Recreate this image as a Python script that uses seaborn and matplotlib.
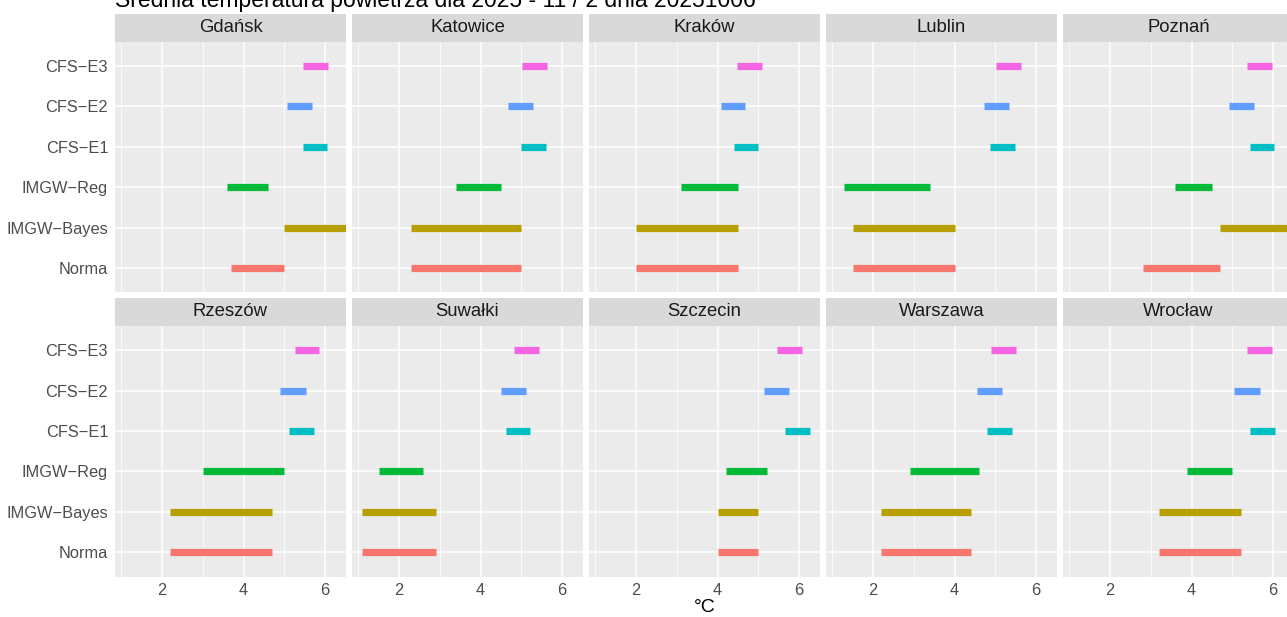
import matplotlib
matplotlib.use("Agg")
import matplotlib.pyplot as plt
from matplotlib.patches import Rectangle
import pandas as pd
import seaborn as sns

# stations in facet order
stations = ["Gdańsk", "Katowice", "Kraków", "Lublin", "Poznań",
            "Rzeszów", "Suwałki", "Szczecin", "Warszawa", "Wrocław"]
# forecast sources, bottom to top
sources = ["Norma", "IMGW−Bayes", "IMGW−Reg", "CFS−E1", "CFS−E2", "CFS−E3"]
source_colors = ["#F8766D", "#B79F00", "#00BA38", "#00BFC4", "#619CFF", "#F564E3"]

# interval start / end per station, in order of `sources`
norma_lo = [3.7, 2.3, 2.0, 1.5, 2.8, 2.2, 1.1, 4.0, 2.2, 3.2]
norma_hi = [5.0, 5.0, 4.5, 4.0, 4.7, 4.7, 2.9, 5.0, 4.4, 5.2]
bayes_lo = [5.0, 2.3, 2.0, 1.5, 4.7, 2.2, 1.1, 4.0, 2.2, 3.2]
bayes_hi = [7.2, 5.0, 4.5, 4.0, 7.2, 4.7, 2.9, 5.0, 4.4, 5.2]
reg_lo = [3.6, 3.4, 3.1, 1.3, 3.6, 3.0, 1.5, 4.2, 2.9, 3.9]
reg_hi = [4.6, 4.5, 4.5, 3.4, 4.5, 5.0, 2.6, 5.2, 4.6, 5.0]
e1_lo = [5.45, 5.0, 4.4, 4.88, 5.42, 5.12, 4.62, 5.65, 4.8, 5.44]
e1_hi = [6.05, 5.6, 5.0, 5.48, 6.03, 5.72, 5.22, 6.26, 5.41, 6.04]
e2_lo = [5.07, 4.68, 4.09, 4.73, 4.92, 4.9, 4.51, 5.13, 4.55, 5.05]
e2_hi = [5.68, 5.29, 4.68, 5.33, 5.52, 5.52, 5.12, 5.74, 5.16, 5.67]
e3_lo = [5.46, 5.02, 4.47, 5.02, 5.35, 5.25, 4.82, 5.46, 4.9, 5.37]
e3_hi = [6.07, 5.63, 5.08, 5.63, 5.97, 5.85, 5.42, 6.08, 5.51, 5.97]

title_text = "Średnia temperatura powietrza dla 2025 - 11 / 2 dnia 20251006"

lows = [norma_lo, bayes_lo, reg_lo, e1_lo, e2_lo, e3_lo]
highs = [norma_hi, bayes_hi, reg_hi, e1_hi, e2_hi, e3_hi]
rows = []
for k, src in enumerate(sources):
    for i, st in enumerate(stations):
        rows.append({"station": st, "source": src, "pos": k,
                     "lo": lows[k][i], "hi": highs[k][i]})
df = pd.DataFrame(rows)

sns.set_theme(style="darkgrid", rc={
    "axes.facecolor": "#EBEBEB",
    "grid.color": "white",
    "axes.edgecolor": "none",
})
plt.rcParams["font.family"] = ["Liberation Sans", "DejaVu Sans"]

palette = dict(zip(sources, source_colors))


def draw_intervals(data, **kwargs):
    ax = plt.gca()
    for _, r in data.iterrows():
        ax.hlines(r["pos"], r["lo"], r["hi"], color=palette[r["source"]],
                  linewidth=5.2, capstyle="butt")


g = sns.FacetGrid(df, col="station", col_wrap=5, col_order=stations,
                  sharex=True, sharey=True)
g.map_dataframe(draw_intervals)
g.figure.set_size_inches(12.87, 6.17)
g.figure.set_dpi(100)

W, H = 1287.0, 617.0
col_left = [115, 352, 589, 826, 1063]
pan_w = 231
row_top = [41.7, 326]
pan_h = 250.5
strip_h = 28

for idx, ax in enumerate(g.axes.flat):
    r, c = divmod(idx, 5)
    ax.set_position([col_left[c] / W, 1 - (row_top[r] + pan_h) / H,
                     pan_w / W, pan_h / H])
    ax.set_xlim(0.85, 6.51)
    ax.set_ylim(-0.6, 5.6)
    ax.set_xticks([2, 4, 6])
    ax.set_xticks([1, 3, 5], minor=True)
    ax.set_yticks(range(len(sources)))
    ax.grid(which="major", color="white", linewidth=1.1)
    ax.grid(which="minor", axis="x", color="white", linewidth=0.55)
    ax.set_title("")
    ax.set_xlabel("")
    ax.set_ylabel("")
    ax.tick_params(axis="both", which="major", length=3, width=0.8,
                   color="#333333", labelcolor="#4D4D4D", labelsize=11.8, pad=2)
    ax.tick_params(axis="both", which="minor", length=0)
    if c == 0:
        ax.set_yticklabels(sources)
    else:
        ax.tick_params(axis="y", length=0, labelleft=False)
    if r == 1:
        ax.set_xticklabels(["2", "4", "6"])
    else:
        ax.tick_params(axis="x", length=0, labelbottom=False)
    ax.add_patch(Rectangle((0, 1), 1, strip_h / pan_h, transform=ax.transAxes,
                           facecolor="#D9D9D9", edgecolor="none", clip_on=False))
    ax.text(0.5, 1 + strip_h / pan_h / 2, stations[idx], transform=ax.transAxes,
            ha="center", va="center", fontsize=13.3, color="#1A1A1A")

g.figure.text(705 / W, 1 - 607 / H, "°C", ha="center", va="center",
              fontsize=14, color="black")
g.figure.text(115 / W, 1 - 7 / H, title_text, ha="left", va="baseline",
              fontsize=16.5, color="black")

g.figure.savefig("out.png", dpi=100)
